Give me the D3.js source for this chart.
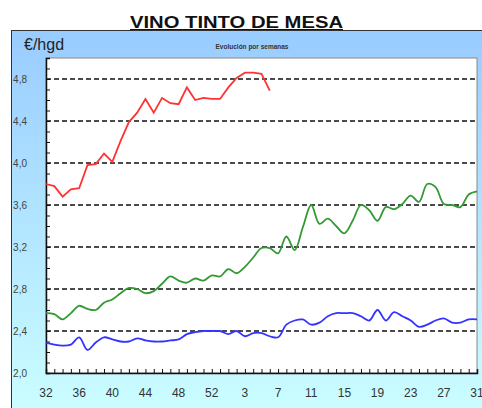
<!DOCTYPE html>
<html>
<head>
<meta charset="utf-8">
<script src="https://cdn.jsdelivr.net/npm/d3@7"></script>
<style>
  body { margin: 0; background: #fff; }
  svg { display: block; font-family: "Liberation Sans", Arial, sans-serif; }
</style>
</head>
<body>
<script>
// Weeks: 32..53 then 1..31
var weeks = d3.range(32, 54).concat(d3.range(1, 32));
var tickWeeks = [32, 36, 40, 44, 48, 52, 3, 7, 11, 15, 19, 23, 27, 31];
var yTicks = [2.0, 2.4, 2.8, 3.2, 3.6, 4.0, 4.4, 4.8];

// Series values (€/hgd), one per week starting at week 32
var redValues = [3.80, 3.78, 3.68, 3.75, 3.76, 3.98, 3.99, 4.09, 4.01, 4.21, 4.39, 4.48, 4.61, 4.48,
  4.62, 4.57, 4.56, 4.72, 4.60, 4.62, 4.61, 4.61, 4.72, 4.81, 4.86, 4.86, 4.85, 4.69];
var greenValues = [2.57, 2.56, 2.51, 2.57, 2.64, 2.61, 2.60, 2.67, 2.70, 2.76, 2.81, 2.80, 2.76, 2.78,
  2.85, 2.92, 2.88, 2.86, 2.90, 2.88, 2.93, 2.92, 2.99, 2.95, 3.01, 3.10, 3.19, 3.19, 3.14, 3.30,
  3.17, 3.39, 3.60, 3.42, 3.47, 3.40, 3.33, 3.45, 3.60, 3.55, 3.45, 3.58, 3.56, 3.61, 3.69, 3.63,
  3.80, 3.77, 3.61, 3.60, 3.58, 3.70, 3.73];
var blueValues = [2.29, 2.27, 2.26, 2.27, 2.34, 2.22, 2.29, 2.34, 2.32, 2.30, 2.30, 2.33, 2.31, 2.30,
  2.30, 2.31, 2.32, 2.37, 2.39, 2.40, 2.40, 2.40, 2.37, 2.40, 2.35, 2.38, 2.38, 2.35, 2.34, 2.46,
  2.50, 2.51, 2.46, 2.48, 2.54, 2.57, 2.57, 2.57, 2.54, 2.50, 2.60, 2.50, 2.58, 2.54, 2.50, 2.44,
  2.46, 2.50, 2.52, 2.48, 2.48, 2.51, 2.51];

var svgWidth = 482, svgHeight = 408;
var plot = { left: 46, top: 58, right: 477, bottom: 373 };

var svg = d3.select("body").append("svg")
  .attr("width", svgWidth)
  .attr("height", svgHeight);

// background gradient of the chart frame
var grad = svg.append("defs").append("linearGradient")
  .attr("id", "bg").attr("x1", 0).attr("y1", 0).attr("x2", 0).attr("y2", 1);
grad.append("stop").attr("offset", "0%").attr("stop-color", "#99ccff");
grad.append("stop").attr("offset", "100%").attr("stop-color", "#ccffff");

svg.append("rect")
  .attr("x", 11.5).attr("y", 30.5)
  .attr("width", 480).attr("height", 390)
  .attr("fill", "url(#bg)")
  .attr("stroke", "#333");

// Title
svg.append("text")
  .attr("x", 130).attr("y", 28)
  .attr("textLength", 213)
  .attr("lengthAdjust", "spacingAndGlyphs")
  .style("font-size", "16px").style("font-weight", "bold")
  .attr("fill", "#111")
  .text("VINO TINTO DE MESA");
svg.append("line")
  .attr("x1", 130).attr("x2", 343).attr("y1", 29.5).attr("y2", 29.5)
  .attr("stroke", "#111").attr("stroke-width", 1.2);

svg.append("text")
  .attr("x", 24).attr("y", 50)
  .style("font-size", "16px")
  .attr("fill", "#222")
  .text("€/hgd");

svg.append("text")
  .attr("x", 252).attr("y", 49)
  .attr("text-anchor", "middle")
  .style("font-size", "6.5px").style("font-weight", "bold")
  .attr("fill", "#333")
  .text("Evolución por semanas");

// plot area
svg.append("rect")
  .attr("x", plot.left).attr("y", plot.top)
  .attr("width", plot.right - plot.left).attr("height", plot.bottom - plot.top)
  .attr("fill", "#fff").attr("stroke", "#888");

var x = d3.scaleLinear().domain([0, weeks.length - 1]).range([plot.left, plot.right]);
var y = d3.scaleLinear().domain([2.0, 5.0]).range([plot.bottom, plot.top]);

// gridlines
svg.append("g").selectAll("line")
  .data(yTicks.slice(1))
  .join("line")
  .attr("x1", plot.left).attr("x2", plot.right)
  .attr("y1", d => y(d)).attr("y2", d => y(d))
  .attr("stroke", "#111").attr("stroke-width", 1.5)
  .attr("stroke-dasharray", "5,3");

// y axis: minor ticks inside, labels outside
var leftAxis = d3.axisRight(y)
  .tickValues(d3.range(20, 51).map(d => d / 10))
  .tickSize(4)
  .tickFormat("");
var yg = svg.append("g")
  .attr("transform", `translate(${plot.left},0)`)
  .call(leftAxis);
yg.select(".domain").attr("stroke", "#111").attr("stroke-width", 1.5);
yg.selectAll(".tick line").attr("stroke", "#111");

svg.append("g").selectAll("text")
  .data(yTicks)
  .join("text")
  .attr("x", 27).attr("y", d => y(d) + 3.5)
  .attr("text-anchor", "end")
  .style("font-size", "10px")
  .attr("fill", "#444")
  .text(d => d.toFixed(1).replace(".", ","));

// x axis: week ticks inside, labels below
var bottomAxis = d3.axisTop(x)
  .tickValues(d3.range(0, weeks.length))
  .tickSize(4)
  .tickFormat("");
var xg = svg.append("g")
  .attr("transform", `translate(0,${plot.bottom})`)
  .call(bottomAxis);
xg.select(".domain").attr("stroke", "#111").attr("stroke-width", 1.5);
xg.selectAll(".tick line").attr("stroke", "#111");

var labelIdx = tickWeeks.map(function(w, k) { return k < 6 ? weeks.indexOf(w) : weeks.lastIndexOf(w); });
svg.append("g").selectAll("text")
  .data(tickWeeks)
  .join("text")
  .attr("x", (d, k) => x(labelIdx[k]))
  .attr("y", 397)
  .attr("text-anchor", "middle")
  .style("font-size", "12px")
  .attr("fill", "#333")
  .text(d => d);

// lines
var straight = d3.line().x((d, i) => x(i)).y(d => y(d));
var smooth = d3.line().x((d, i) => x(i)).y(d => y(d)).curve(d3.curveCatmullRom);

svg.append("path").attr("d", smooth(greenValues))
  .attr("fill", "none").attr("stroke", "#339933").attr("stroke-width", 1.8);
svg.append("path").attr("d", smooth(blueValues))
  .attr("fill", "none").attr("stroke", "#3333ff").attr("stroke-width", 1.8);
svg.append("path").attr("d", straight(redValues))
  .attr("fill", "none").attr("stroke", "#ff3333").attr("stroke-width", 1.8);
</script>
</body>
</html>
